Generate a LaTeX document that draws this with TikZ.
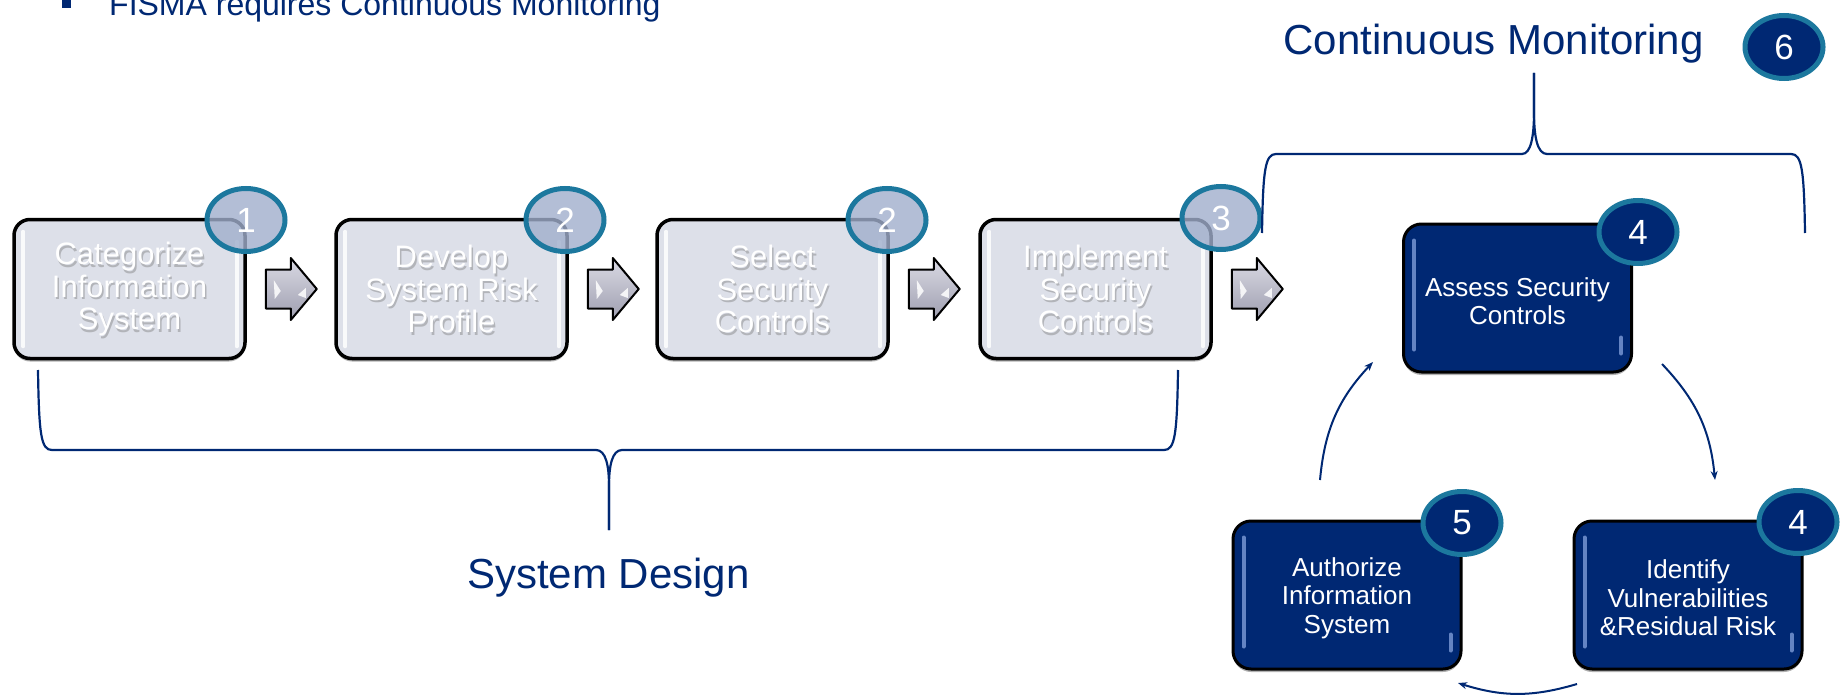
\documentclass[tikz,border=0pt]{standalone}
\usepackage{fontspec}
\setmainfont{Liberation Sans}
\usetikzlibrary{shapes.geometric,arrows.meta,shadows,calc}
\definecolor{navy}{RGB}{0,40,115}
\definecolor{ringcol}{RGB}{28,120,158}
\definecolor{topfill}{RGB}{221,224,233}
\definecolor{badgefill}{RGB}{160,174,204}
\definecolor{arrowlight}{RGB}{218,218,228}
\definecolor{arrowdark}{RGB}{158,158,175}
\definecolor{hilite}{RGB}{125,155,215}

\tikzset{
  topbox/.style={draw=black, line width=3.5pt, rounded corners=16pt, fill=topfill,
    minimum width=231, minimum height=139, inner sep=0pt,
    drop shadow={shadow xshift=0pt, shadow yshift=-3pt, opacity=.3, fill=black}},
  cycbox/.style={draw=black, line width=3pt, rounded corners=18pt, fill=navy,
    minimum width=228, minimum height=148, inner sep=0pt,
    drop shadow={shadow xshift=0pt, shadow yshift=-3pt, opacity=.3, fill=black}},
  toptext/.style={text=white, align=center, font=\fontsize{31}{32.5}\selectfont, inner sep=0pt},
  topshadow/.style={toptext, text=black!55, text opacity=.4},
  cyctext/.style={text=white, align=center, font=\fontsize{26}{28.5}\selectfont, inner sep=0pt},
  badge/.style={ellipse, draw=ringcol, line width=5pt, minimum width=78, minimum height=63,
    inner sep=0pt, text=white, font=\fontsize{35}{35}\selectfont},
  badgelight/.style={badge, fill=badgefill, fill opacity=.8, text opacity=1},
  badgedark/.style={badge, fill=navy},
  bracestyle/.style={draw=navy, line width=2.2pt},
  cycarrow/.style={draw=navy, line width=2pt, -{Stealth[length=9pt,width=7pt]}},
  lbl/.style={text=navy, inner sep=0pt},
  whitestrip/.style={draw=white, line width=4pt, line cap=round, opacity=.85},
  bluestrip/.style={draw=hilite, line width=4pt, line cap=round, opacity=.8},
  blockarr/.pic={
    \draw[line width=2pt, line join=round, top color=arrowlight, bottom color=arrowdark]
      (0,-19.5) -- (25,-19.5) -- (25,-31) -- (51,0) -- (25,31) -- (25,19.5) -- (0,19.5) -- cycle;
    \fill[white, opacity=.85] (8,-9) -- (15,2) -- (9,10) -- cycle;
    \fill[white, opacity=.85] (32,6) -- (40,-1) -- (40,9) -- cycle;
  }
}

\newcommand\mktopbox[3]{%
  \node[topbox] (#1) at (#2,289) {};
  \draw[whitestrip] ($(#1.north west)+(11,14)$) -- ($(#1.south west)+(11,-14)$);
  \draw[whitestrip] ($(#1.north east)+(-10,24)$) -- ($(#1.south east)+(-10,-14)$);
  \node[topshadow] (#1s) at ($(#1)+(1.5,2.5)$) {#3};
  \node[toptext] (#1t) at (#1) {#3};
}
\newcommand\mkcycbox[4]{%
  \node[cycbox] (#1) at (#2,#3) {};
  \draw[bluestrip] ($(#1.north west)+(12,18)$) -- ($(#1.south west)+(12,-24)$);
  \draw[bluestrip] ($(#1.south east)+(-12,-36)$) -- ($(#1.south east)+(-12,-20)$);
  \node[cyctext] (#1t) at ($(#1)+(0,3)$) {#4};
}

\begin{document}
\begin{tikzpicture}[x=1pt,y=-1pt]
\useasboundingbox (0,0) rectangle (1843,695);

% header line
\node[fill=navy, minimum size=9, inner sep=0pt] (bullet) at (66.5,3.5) {};
\node[lbl, anchor=base west, font=\fontsize{32}{32}\selectfont] (fisma) at (109,16)
  {FISMA requires Continuous Monitoring};

% system design boxes
\mktopbox{b1}{129.5}{Categorize\\Information\\System}
\mktopbox{b2}{451.5}{Develop\\System Risk\\Profile}
\mktopbox{b3}{772.5}{Select\\Security\\Controls}
\mktopbox{b4}{1095.5}{Implement\\Security\\Controls}

% block arrows
\pic (ar1) at ($(b1.east)+(19,0)$) {blockarr};
\pic (ar2) at ($(b2.east)+(19,0)$) {blockarr};
\pic (ar3) at ($(b3.east)+(19,0)$) {blockarr};
\pic (ar4) at ($(b4.east)+(19,0)$) {blockarr};

% continuous monitoring cycle boxes
\mkcycbox{c1}{1517.5}{298}{Assess Security\\Controls}
\mkcycbox{c2}{1347}{595}{Authorize\\Information\\System}
\mkcycbox{c3}{1688}{595}{Identify\\Vulnerabilities\\\&Residual Risk}

% badges
\node[badgelight] (n1) at (246,220) {1};
\node[badgelight] (n2) at (565,220) {2};
\node[badgelight] (n3) at (887,220) {2};
\node[badgelight] (n4) at (1221,218) {3};
\node[badgedark] (n5) at (1638,232) {4};
\node[badgedark] (n6) at (1462,523) {5};
\node[badgedark] (n7) at (1798,522) {4};
\node[badgedark] (n8) at (1784,47) {6};

% braces
\coordinate (sdL) at (38,370);
\coordinate (sdR) at (1178,370);
\coordinate (sdT) at (609,530);
\draw[bracestyle] (sdL) .. controls (39,435) and (41,450) .. (52,450) -- (596,450)
  .. controls (606,450) and (609,466) .. (609,486) -- (sdT);
\draw[bracestyle] (sdR) .. controls (1177,435) and (1175,450) .. (1164,450) -- (622,450)
  .. controls (612,450) and (609,466) .. (609,486) -- (sdT);

\coordinate (cmL) at (1262,233);
\coordinate (cmR) at (1805,233);
\coordinate (cmT) at (1534,73);
\draw[bracestyle] (cmL) .. controls (1263,170) and (1265,154) .. (1276,154) -- (1522,154)
  .. controls (1531,154) and (1534,136) .. (1534,112) -- (cmT);
\draw[bracestyle] (cmR) .. controls (1804,170) and (1802,154) .. (1791,154) -- (1547,154)
  .. controls (1537,154) and (1534,136) .. (1534,112) -- (cmT);

% cycle arrows
\coordinate (aAs) at (1320,480);
\coordinate (aAe) at (1373,362);
\coordinate (aBs) at (1662,364);
\coordinate (aBe) at (1715,480);
\coordinate (aCs) at (1577,684);
\coordinate (aCe) at (1458,683);
\draw[cycarrow] (aAs) to[bend left=19] (aAe);
\draw[cycarrow] (aBs) to[bend left=19] (aBe);
\draw[cycarrow] (aCs) to[bend left=17] (aCe);

% labels
\node[lbl, anchor=base, font=\fontsize{42}{42}\selectfont] (cmlabel) at (1493.5,55) {Continuous Monitoring};
\node[lbl, anchor=base, font=\fontsize{42}{42}\selectfont] (sdlabel) at (608.5,588) {System Design};
\end{tikzpicture}
\end{document}
